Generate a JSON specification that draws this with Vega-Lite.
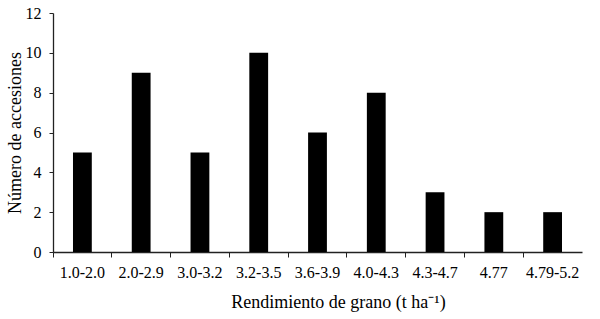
{
  "$schema": "https://vega.github.io/schema/vega-lite/v6.json",
  "autosize": "none",
  "width": 529,
  "height": 239,
  "padding": {"left": 53, "top": 13, "right": 18, "bottom": 67},
  "background": "white",
  "config": {
    "view": {"stroke": null},
    "font": "Liberation Serif",
    "axis": {"labelFont": "Liberation Serif", "titleFont": "Liberation Serif", "labelColor": "black", "titleColor": "black", "domainColor": "#222222", "tickColor": "#222222", "titleFontWeight": "normal", "grid": false, "labelFontSize": 16, "titleFontSize": 18}
  },
  "data": {"values": [
    {"rango": "1.0-2.0", "n": 5},
    {"rango": "2.0-2.9", "n": 9},
    {"rango": "3.0-3.2", "n": 5},
    {"rango": "3.2-3.5", "n": 10},
    {"rango": "3.6-3.9", "n": 6},
    {"rango": "4.0-4.3", "n": 8},
    {"rango": "4.3-4.7", "n": 3},
    {"rango": "4.77", "n": 2},
    {"rango": "4.79-5.2", "n": 2}
  ]},
  "mark": {"type": "bar", "color": "black", "width": {"band": 0.32}},
  "encoding": {
    "x": {"field": "rango", "type": "nominal", "sort": null,
      "scale": {"paddingInner": 0, "paddingOuter": 0},
      "axis": {"title": "Rendimiento de grano (t ha⁻¹)", "labelAngle": 0, "bandPosition": 0, "tickSize": 5, "labelPadding": 7, "titlePadding": 13, "titleX": 285, "domainWidth": 1.3}},
    "y": {"field": "n", "type": "quantitative",
      "scale": {"domain": [0, 12]},
      "axis": {"title": "Número de accesiones", "values": [0, 2, 4, 6, 8, 10, 12], "tickSize": 4, "labelPadding": 8, "titlePadding": 1, "domainWidth": 1.3}}
  }
}
